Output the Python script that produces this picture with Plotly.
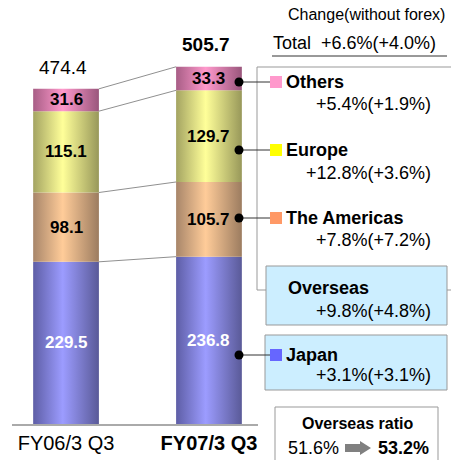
import plotly.graph_objects as go

# ---- data ----
categories = ["FY06/3 Q3", "FY07/3 Q3"]
regions = ["Japan", "The Americas", "Europe", "Others"]
fy06 = [229.5, 98.1, 115.1, 31.6]
fy07 = [236.8, 105.7, 129.7, 33.3]
totals = [474.4, 505.7]
changes = ["+3.1%(+3.1%)", "+7.8%(+7.2%)", "+12.8%(+3.6%)", "+5.4%(+1.9%)"]
overseas_change = "+9.8%(+4.8%)"
total_change = "+6.6%(+4.0%)"
overseas_ratio = ["51.6%", "53.2%"]

edge_colors = ["#5e5ea6", "#a8866a", "#a4a462", "#a85e86"]
light_colors = ["#9c9cff", "#ffcc99", "#ffff99", "#ff99cc"]
dark_right = ["#5a5a98", "#9c7c60", "#98985a", "#9a567c"]
legend_colors = ["#6666ff", "#ff9966", "#ffff00", "#ff99cc"]

FONT = "Arial, Liberation Sans, sans-serif"
W, H = 451, 460
L, R, T, B = 12, 193, 0, 36
PW = W - L - R
PH = H - T - B


def px(x):
    return (x - L) / PW


def py(y):
    return (H - B - y) / PH


BW = 0.46
fig = go.Figure()

series = [fy06, fy07]
for ci, vals in enumerate(series):
    base = 0
    for ri, v in enumerate(vals):
        x0, x1 = ci - BW / 2, ci + BW / 2
        fig.add_trace(go.Scatter(
            x=[x0, x1, x1, x0, x0], y=[base, base, base + v, base + v, base],
            mode="lines", line=dict(width=0), fill="toself",
            fillgradient=dict(type="horizontal",
                              colorscale=[[0, edge_colors[ri]], [0.45, light_colors[ri]],
                                          [1, dark_right[ri]]]),
            hoverinfo="skip", showlegend=False))
        fig.add_annotation(x=ci, y=base + v / 2, xref="x", yref="y",
                           text=f"<b>{v}</b>", showarrow=False,
                           font=dict(family=FONT, size=17,
                                     color="white" if ri == 0 else "black"))
        base += v

# connector lines between bars
cum06 = [sum(fy06[:i + 1]) for i in range(len(fy06))]
cum07 = [sum(fy07[:i + 1]) for i in range(len(fy07))]
for a, b in zip(cum06, cum07):
    fig.add_trace(go.Scatter(x=[BW / 2, 1 - BW / 2], y=[a, b], mode="lines",
                             line=dict(color="#909090", width=1),
                             hoverinfo="skip", showlegend=False))

# totals
fig.add_annotation(x=0, y=totals[0], xref="x", yref="y", text=f"{totals[0]}",
                   showarrow=False, yshift=21, xshift=-3,
                   font=dict(family=FONT, size=19, color="black"))
fig.add_annotation(x=1, y=totals[1], xref="x", yref="y", text=f"<b>{totals[1]}</b>",
                   showarrow=False, yshift=22, xshift=-3,
                   font=dict(family=FONT, size=19, color="black"))

shapes = []


def rect(x0, y0, x1, y1, fill, line="#999999"):
    shapes.append(dict(type="rect", xref="paper", yref="paper",
                       x0=px(x0), x1=px(x1), y0=py(y1), y1=py(y0),
                       fillcolor=fill, line=dict(color=line, width=1), layer="below"))


def text(x, y, s, size=18, anchor="left", bold=False):
    fig.add_annotation(x=px(x), y=py(y), xref="paper", yref="paper",
                       text=f"<b>{s}</b>" if bold else s, showarrow=False,
                       xanchor=anchor, yanchor="middle",
                       font=dict(family=FONT, size=size, color="black"))


# header
text(447, 15, "Change(without forex)", size=16, anchor="right")
text(438, 43, "Total\u00a0\u00a0" + total_change, size=18, anchor="right")
shapes.append(dict(type="line", xref="paper", yref="paper", x0=px(272), x1=px(447),
                   y0=py(56), y1=py(56), line=dict(color="#333333", width=1)))

# big outline
shapes.append(dict(type="path", xref="paper", yref="paper", layer="below",
                   path=f"M {px(460)} {py(67)} L {px(257)} {py(67)} L {px(257)} {py(290)} L {px(460)} {py(290)}",
                   line=dict(color="#999999", width=1)))
rect(266, 266, 447, 325, "#cceeff")
rect(265, 335, 447, 390, "#cceeff")
rect(275, 407, 438, 470, "white")

# legend rows: (region index, row y, sub y)
rows = [(3, 82, 104), (2, 150, 173), (1, 218, 240), (0, 355, 375)]
for ri, ry, sy in rows:
    shapes.append(dict(type="line", xref="paper", yref="paper", x0=px(239), x1=px(270),
                       y0=py(ry), y1=py(ry), line=dict(color="#333333", width=1)))
    shapes.append(dict(type="circle", xref="paper", yref="paper",
                       x0=px(234.5), x1=px(243.5), y0=py(ry + 4.5), y1=py(ry - 4.5),
                       fillcolor="black", line=dict(color="black", width=0)))
    shapes.append(dict(type="rect", xref="paper", yref="paper",
                       x0=px(270), x1=px(282), y0=py(ry + 6), y1=py(ry - 6),
                       fillcolor=legend_colors[ri], line=dict(width=0)))
    text(284, ry, regions[ri], size=18, bold=True)
    text(433, sy, changes[ri], size=18, anchor="right")

text(286, 288, "Overseas", size=18, bold=True)
text(433, 311, overseas_change, size=18, anchor="right")

# overseas ratio
text(357, 423, "Overseas ratio", size=16, anchor="center", bold=True)
text(286, 448, overseas_ratio[0], size=18)
text(376, 448, overseas_ratio[1], size=18, bold=True)
shapes.append(dict(type="path", xref="paper", yref="paper",
                   path=(f"M {px(345)} {py(444)} L {px(360)} {py(444)} L {px(360)} {py(441)} "
                         f"L {px(371)} {py(448)} L {px(360)} {py(455)} L {px(360)} {py(452)} "
                         f"L {px(345)} {py(452)} Z"),
                   fillcolor="#808080", line=dict(width=0)))

fig.update_layout(
    width=W, height=H, margin=dict(l=L, r=R, t=T, b=B, pad=0),
    paper_bgcolor="white", plot_bgcolor="white", showlegend=False,
    shapes=shapes,
    xaxis=dict(range=[-0.378, 1.343], tickvals=[0, 1],
               ticktext=[categories[0], f"<b>{categories[1]}</b>"],
               showline=True, linecolor="#aaaaaa", linewidth=1.5, showgrid=False,
               zeroline=False, ticks="", fixedrange=True,
               tickfont=dict(family=FONT, size=20, color="black")),
    yaxis=dict(range=[0, 600], visible=False, showgrid=False, zeroline=False,
               fixedrange=True),
)

fig.write_html("out.html", config={"displayModeBar": False},
               post_script="document.body.style.margin='0';document.body.style.overflow='hidden';")
